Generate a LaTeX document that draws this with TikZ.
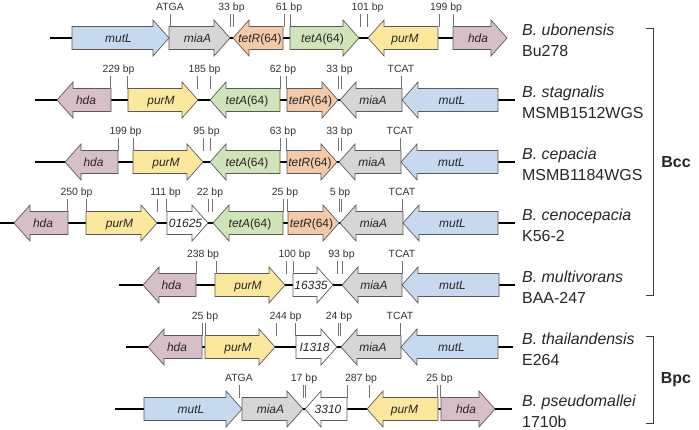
\documentclass[tikz,border=0pt]{standalone}
\usepackage{fontspec}
\setmainfont{Liberation Sans}
\definecolor{mutLfill}{HTML}{C6D9EF}
\definecolor{miaAfill}{HTML}{D6D6D6}
\definecolor{tetRfill}{HTML}{F4C9A8}
\definecolor{tetAfill}{HTML}{CFE4B8}
\definecolor{purMfill}{HTML}{FBE89C}
\definecolor{hdafill}{HTML}{D8BFC7}
\definecolor{edge}{HTML}{5A5A5A}
\newcommand{\strand}[4]{%
  \coordinate (#1a) at (#2,#4);
  \coordinate (#1b) at (#3,#4);
  \draw[backbone] (#1a) -- (#1b);}
\newcommand{\gene}[6]{%
  \pgfmathsetmacro{\hbx}{#3-16*sign(#3-#2)}%
  \pgfmathsetmacro{\lbx}{(#2+#3)/2-2*sign(#3-#2)}%
  \draw[genebox,#5] (#2,#4-11.5) -- (\hbx,#4-11.5) -- (\hbx,#4-18) -- (#3,#4)
    -- (\hbx,#4+18) -- (\hbx,#4+11.5) -- (#2,#4+11.5) -- cycle;
  \node[genename] (#1) at (\lbx,#4+4.3) {#6};}
\newcommand{\gap}[6][0]{%
  \draw[tickline] (#3,#5-24) -- (#3,#5-11.5) (#4,#5-24) -- (#4,#5-11.5);
  \node[bplabel] (#2) at ({(#3+#4)/2+#1},#5-27.5) {#6};}
\begin{document}
\begin{tikzpicture}[x=1bp, y=-1bp]
  \tikzset{
    backbone/.style={line width=1.8bp, black},
    genebox/.style={draw=edge, line width=0.7bp, line join=miter},
    mutL/.style={fill=mutLfill}, miaA/.style={fill=miaAfill},
    tetR/.style={fill=tetRfill}, tetA/.style={fill=tetAfill},
    purM/.style={fill=purMfill}, hda/.style={fill=hdafill},
    orf/.style={fill=white},
    genename/.style={anchor=base, inner sep=0pt, font=\fontsize{12}{14}\selectfont\itshape, text=black!85},
    tickline/.style={draw=black!55, line width=0.8bp},
    bplabel/.style={anchor=base, inner sep=0pt, font=\fontsize{10.5}{12}\selectfont, text=black!80},
    species/.style={anchor=west, align=left, inner sep=0pt, font=\fontsize{16}{21}\selectfont, text=black!85},
    clade/.style={inner sep=0pt, font=\fontsize{16}{19}\selectfont\bfseries, text=black!85},
    bracket/.style={draw=black!75, line width=0.9bp}
  }
  \useasboundingbox (0,0) rectangle (699,429);

  \strand{ubo}{50}{507}{38}
  \gene{ubo1}{72}{169}{38}{mutL}{mutL}
  \gene{ubo2}{169}{230}{38}{miaA}{miaA}
  \gene{ubo3}{283}{233}{38}{tetR}{\textit{tetR}\upshape(64)}
  \gene{ubo4}{290}{359}{38}{tetA}{\textit{tetA}\upshape(64)}
  \gene{ubo5}{438}{368}{38}{purM}{purM}
  \gene{ubo6}{453}{507}{38}{hda}{hda}
  \gap{uboA}{170}{170}{38}{ATGA}
  \gap{uboB}{230}{233}{38}{33 bp}
  \gap[2]{uboC}{284}{290}{38}{61 bp}
  \gap[4]{uboD}{360}{367}{38}{101 bp}
  \gap{uboE}{439}{453}{38}{199 bp}
  \node[species] (ubo) at (522,40) {\textit{B. ubonensis}\\Bu278};

  \strand{sta}{35}{515}{100}
  \gene{sta1}{111}{57}{100}{hda}{hda}
  \gene{sta2}{128}{198}{100}{purM}{purM}
  \gene{sta3}{280}{210}{100}{tetA}{\textit{tetA}\upshape(64)}
  \gene{sta4}{287}{338}{100}{tetR}{\textit{tetR}\upshape(64)}
  \gene{sta5}{402}{340}{100}{miaA}{miaA}
  \gene{sta6}{498}{402}{100}{mutL}{mutL}
  \gap{staA}{110}{127}{100}{229 bp}
  \gap[1]{staB}{197}{210}{100}{185 bp}
  \gap{staC}{280}{286}{100}{62 bp}
  \gap{staD}{338}{341}{100}{33 bp}
  \gap{staE}{401}{401}{100}{TCAT}
  \node[species] (sta) at (522,102) {\textit{B. stagnalis}\\MSMB1512WGS};

  \strand{cep}{35}{515}{162}
  \gene{cep1}{118}{65}{162}{hda}{hda}
  \gene{cep2}{133}{203}{162}{purM}{purM}
  \gene{cep3}{280}{210}{162}{tetA}{\textit{tetA}\upshape(64)}
  \gene{cep4}{287}{337}{162}{tetR}{\textit{tetR}\upshape(64)}
  \gene{cep5}{401}{339}{162}{miaA}{miaA}
  \gene{cep6}{498}{401}{162}{mutL}{mutL}
  \gap{cepA}{118}{133}{162}{199 bp}
  \gap{cepB}{203}{210}{162}{95 bp}
  \gap{cepC}{280}{286}{162}{63 bp}
  \gap{cepD}{338}{341}{162}{33 bp}
  \gap{cepE}{400}{400}{162}{TCAT}
  \node[species] (cep) at (522,164) {\textit{B. cepacia}\\MSMB1184WGS};

  \strand{cen}{0}{515}{223}
  \gene{cen1}{68}{14}{223}{hda}{hda}
  \gene{cen2}{86}{157}{223}{purM}{purM}
  \gene{cen3}{167}{208}{223}{orf}{01625}
  \gene{cen4}{283}{213}{223}{tetA}{\textit{tetA}\upshape(64)}
  \gene{cen5}{288}{339}{223}{tetR}{\textit{tetR}\upshape(64)}
  \gene{cen6}{403}{340}{223}{miaA}{miaA}
  \gene{cen7}{498}{403}{223}{mutL}{mutL}
  \gap{cenA}{67}{86}{223}{250 bp}
  \gap[4]{cenB}{157}{166}{223}{111 bp}
  \gap{cenC}{208}{212}{223}{22 bp}
  \gap{cenD}{283}{287}{223}{25 bp}
  \gap{cenE}{339}{341}{223}{5 bp}
  \gap{cenF}{402}{402}{223}{TCAT}
  \node[species] (cen) at (522,225) {\textit{B. cenocepacia}\\K56-2};

  \strand{mul}{119}{515}{285}
  \gene{mul1}{196}{143}{285}{hda}{hda}
  \gene{mul2}{215}{285}{285}{purM}{purM}
  \gene{mul3}{293}{333}{285}{orf}{16335}
  \gene{mul4}{402}{342}{285}{miaA}{miaA}
  \gene{mul5}{499}{402}{285}{mutL}{mutL}
  \gap[-3]{mulA}{196}{216}{285}{238 bp}
  \gap[5]{mulB}{286}{293}{285}{100 bp}
  \gap[2]{mulC}{337}{342}{285}{93 bp}
  \gap{mulD}{402}{402}{285}{TCAT}
  \node[species] (mul) at (522,287) {\textit{B. multivorans}\\BAA-247};

  \strand{tha}{126}{513}{347}
  \gene{tha1}{202}{148}{347}{hda}{hda}
  \gene{tha2}{205}{275}{347}{purM}{purM}
  \gene{tha3}{296}{337}{347}{orf}{I1318}
  \gene{tha4}{401}{341}{347}{miaA}{miaA}
  \gene{tha5}{498}{401}{347}{mutL}{mutL}
  \gap[1.5]{thaA}{202}{205}{347}{25 bp}
  \gap{thaB}{276}{295}{347}{244 bp}
  \gap{thaC}{338}{340}{347}{24 bp}
  \gap{thaD}{400}{400}{347}{TCAT}
  \node[species] (tha) at (522,349) {\textit{B. thailandensis}\\E264};

  \strand{pse}{115}{512}{409}
  \gene{pse1}{144}{242}{409}{mutL}{mutL}
  \gene{pse2}{242}{303}{409}{miaA}{miaA}
  \gene{pse3}{347}{305}{409}{orf}{3310}
  \gene{pse4}{438}{367}{409}{purM}{purM}
  \gene{pse5}{441}{495}{409}{hda}{hda}
  \gap{pseA}{239}{239}{409}{ATGA}
  \gap{pseB}{303}{305}{409}{17 bp}
  \gap[3]{pseC}{347}{369}{409}{287 bp}
  \gap[1]{pseD}{437}{440}{409}{25 bp}
  \node[species] (pse) at (522,411) {\textit{B. pseudomallei}\\1710b};

  \draw[bracket] (646,28) -- (653,28) -- (653,295) -- (646,295);
  \node[clade] (bcc) at (676,162) {Bcc};
  \draw[bracket] (646,336) -- (653,336) -- (653,423) -- (646,423);
  \node[clade] (bpc) at (676,380) {Bpc};
\end{tikzpicture}
\end{document}
